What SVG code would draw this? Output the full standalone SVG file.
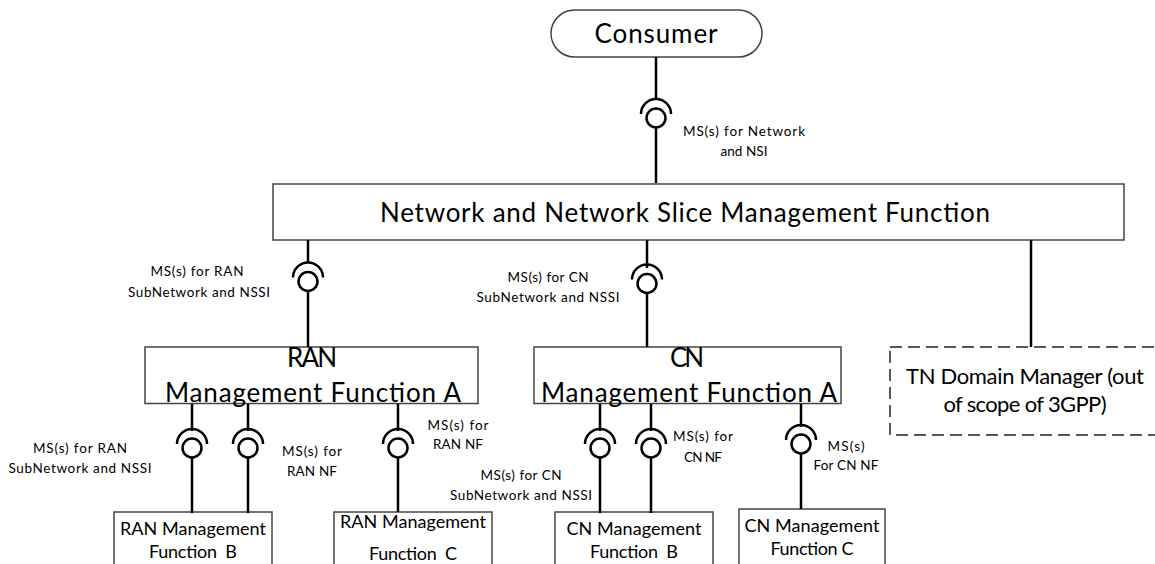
<svg xmlns="http://www.w3.org/2000/svg" xmlns:xlink="http://www.w3.org/1999/xlink" width="1155" height="564" viewBox="0 0 1155 564">
<style>
text{font-family:Lato,"Open Sans","Liberation Sans",sans-serif;fill:#000;text-anchor:middle}
.box{fill:#fff;stroke:#444;stroke-width:1.5}
.dash{fill:#fff;stroke:#222;stroke-width:1.5;stroke-dasharray:12 6}
.ln{stroke:#000;stroke-width:2.5;fill:none}
.big{font-size:26px}
.tn{font-size:22px}
.sm{font-size:18px}
.lb{font-size:13.5px}
</style>
<defs>
<g id="iface">
<circle r="9.5" cx="0" cy="0" fill="none" stroke="#000" stroke-width="2.5"/>
<path d="M-15,-4A15,15 0 0 1 15,-4" fill="none" stroke="#000" stroke-width="2.5"/>
</g>
</defs>
<rect width="1155" height="564" fill="#fff"/>
<g id="nodes">
<g id="consumer"><rect class="box" x="551" y="10" width="211" height="47" rx="23.5"/><text class="big" x="656" y="43" textLength="123">Consumer</text></g>
<g id="nnsmf"><rect class="box" x="273" y="184" width="851" height="56"/><text class="big" x="685" y="222" textLength="610">Network and Network Slice Management Function</text></g>
<g id="ran-a"><rect class="box" x="145" y="347" width="333" height="56.500"/><text class="big" x="312" y="367" textLength="50">RAN</text><text class="big" x="313" y="402" textLength="296">Management Function A</text></g>
<g id="cn-a"><rect class="box" x="534" y="347" width="307" height="56.500"/><text class="big" x="687" y="367" textLength="34">CN</text><text class="big" x="689" y="402" textLength="296">Management Function A</text></g>
<g id="tn"><rect class="dash" x="890" y="347" width="280" height="88"/><text class="tn" x="1025" y="384" textLength="238">TN Domain Manager (out</text><text class="tn" x="1025" y="412" textLength="163">of scope of 3GPP)</text></g>
<g id="ran-b"><rect class="box" x="114" y="512" width="158" height="60"/><text class="sm" x="193" y="535" textLength="146">RAN Management</text><text class="sm" x="193" y="558" textLength="88" xml:space="preserve">Function  B</text></g>
<g id="ran-c"><rect class="box" x="334" y="512" width="158" height="60"/><text class="sm" x="413" y="528" textLength="146">RAN Management</text><text class="sm" x="413" y="560" textLength="88" xml:space="preserve">Function  C</text></g>
<g id="cn-b"><rect class="box" x="555" y="512" width="158" height="60"/><text class="sm" x="634" y="535" textLength="135">CN Management</text><text class="sm" x="634" y="558" textLength="88" xml:space="preserve">Function  B</text></g>
<g id="cn-c"><rect class="box" x="739" y="509" width="146" height="60"/><text class="sm" x="812" y="532" textLength="135">CN Management</text><text class="sm" x="812" y="555" textLength="83">Function C</text></g>
</g>
<g id="connectors">
<path class="ln" d="M656,57V99M656,127.500V183M308,240V262M308,291V347M647,240V268M647,293V347M1031,240V347M192,404V431M192,457V513M248,404V431M248,457V513M398,404V431M398,457V512M600,404V431M600,457V513M651,404V431M651,457V513M801,404V427M801,453V509"/>
<use xlink:href="#iface" href="#iface" x="656" y="118"/>
<use xlink:href="#iface" href="#iface" x="308" y="281.500"/>
<use xlink:href="#iface" href="#iface" x="647" y="283.500"/>
<use xlink:href="#iface" href="#iface" x="192" y="448"/>
<use xlink:href="#iface" href="#iface" x="248" y="448"/>
<use xlink:href="#iface" href="#iface" x="398" y="448"/>
<use xlink:href="#iface" href="#iface" x="600" y="448"/>
<use xlink:href="#iface" href="#iface" x="651" y="448"/>
<use xlink:href="#iface" href="#iface" x="801" y="444"/>
</g>
<g id="labels">
<text class="lb" x="744" y="136" textLength="122">MS(s) for Network</text><text class="lb" x="744" y="156" textLength="47">and NSI</text>
<text class="lb" x="197" y="276" textLength="93">MS(s) for RAN</text><text class="lb" x="199" y="297" textLength="142">SubNetwork and NSSI</text>
<text class="lb" x="548" y="282" textLength="81">MS(s) for CN</text><text class="lb" x="548" y="302" textLength="143">SubNetwork and NSSI</text>
<text class="lb" x="80" y="453" textLength="94">MS(s) for RAN</text><text class="lb" x="80" y="473" textLength="143">SubNetwork and NSSI</text>
<text class="lb" x="312" y="456" textLength="60">MS(s) for</text><text class="lb" x="312" y="476" textLength="50">RAN NF</text>
<text class="lb" x="458" y="430" textLength="61">MS(s) for</text><text class="lb" x="458" y="449" textLength="50">RAN NF</text>
<text class="lb" x="521" y="480" textLength="81">MS(s) for CN</text><text class="lb" x="521" y="500" textLength="142">SubNetwork and NSSI</text>
<text class="lb" x="703" y="441" textLength="60">MS(s) for</text><text class="lb" x="703" y="462" textLength="38">CN NF</text>
<text class="lb" x="846" y="451" textLength="37">MS(s)</text><text class="lb" x="846" y="470" textLength="65">For CN NF</text>
</g>
</svg>
